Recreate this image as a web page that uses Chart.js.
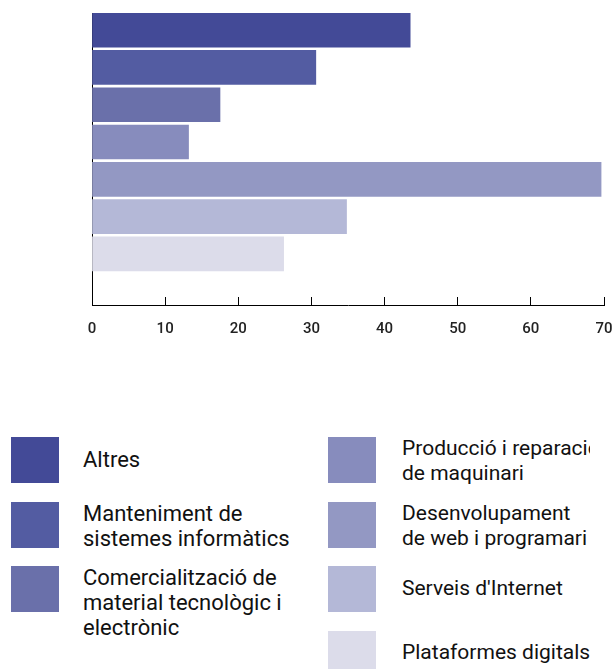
<!DOCTYPE html>
<html>
<head>
<meta charset="utf-8">
<script src="https://cdn.jsdelivr.net/npm/chart.js@4/dist/chart.umd.min.js"></script>
<style>
  html, body { margin: 0; padding: 0; background: #fff; }
  body { width: 614px; height: 669px; position: relative; overflow: hidden; font-family: Roboto, sans-serif; }
  #wrap { position: absolute; left: 0; top: 0; width: 614px; height: 345px; }
  .col { position: absolute; top: 437px; }
  .item { position: relative; height: 64.5px; }
  .sw { position: absolute; left: 0; top: 0; width: 48px; height: 46px; }
  .txt { position: absolute; top: -1px; min-height: 46px; display: flex; align-items: center;
         font-size: 22px; line-height: 25px; color: #111; overflow: hidden; white-space: nowrap; }
  #legR .txt { font-size: 21px; }
  .txt span { display: block; }
</style>
</head>
<body>
<div id="wrap"><canvas id="c" width="614" height="345"></canvas></div>
<div id="legL" class="col" style="left:11px"></div>
<div id="legR" class="col" style="left:328px"></div>
<script>
// Category labels (as line-broken in the legend)
const categories = [
  ["Altres"],
  ["Manteniment de", "sistemes informàtics"],
  ["Comercialització de", "material tecnològic i", "electrònic"],
  ["Producció i reparació", "de maquinari"],
  ["Desenvolupament", "de web i programari"],
  ["Serveis d'Internet"],
  ["Plataformes digitals"]
];
const values = [43.5, 30.6, 17.5, 13.2, 69.6, 34.8, 26.2];
const colors = ["#434a97", "#535ca2", "#6a70aa", "#878cbd", "#9398c3", "#b4b8d7", "#dcdcea"];
const xTicks = [0, 10, 20, 30, 40, 50, 60, 70];

const points = values.map((v, i) => ({ x: v, y: i }));

new Chart(document.getElementById('c'), {
  type: 'bar',
  data: {
    labels: categories,
    datasets: [{
      data: points,
      backgroundColor: colors,
      borderWidth: 0,
      barThickness: 34
    }]
  },
  options: {
    indexAxis: 'y',
    responsive: false,
    animation: false,
    events: [],
    layout: { padding: { left: 92, top: 13, right: 10, bottom: 0 } },
    plugins: { legend: { display: false }, tooltip: { enabled: false } },
    scales: {
      y: {
        type: 'linear',
        reverse: true,
        offset: false,
        min: -0.46,
        max: 7.37,
        ticks: { display: false, stepSize: 1 },
        grid: { display: false, drawTicks: false, offset: false },
        border: { display: true, color: '#000', width: 1 },
        afterFit: s => { s.width = 0; }
      },
      x: {
        type: 'linear',
        min: 0,
        max: 70,
        afterBuildTicks: s => { s.ticks = xTicks.map(v => ({ value: v })); },
        ticks: {
          padding: 23,
          color: '#222',
          font: { family: 'Roboto', size: 15, weight: '500' }
        },
        grid: { display: true, drawOnChartArea: false, drawTicks: true, tickLength: -8, color: '#000', lineWidth: 1 },
        border: { display: true, color: '#000', width: 1 },
        afterFit: s => { s.height = 40; s.paddingLeft = 0; s.paddingRight = 0; }
      }
    }
  }
});

function buildLegend(el, from, to, left, width) {
  let html = '';
  for (let i = from; i < to; i++) {
    html += '<div class="item"><div class="sw" style="background:' + colors[i] + '"></div>' +
      '<div class="txt" style="left:' + left + 'px;width:' + width + 'px"><span>' +
      categories[i].join('<br>') + '</span></div></div>';
  }
  el.innerHTML = html;
}
buildLegend(document.getElementById('legL'), 0, 3, 72, 230);
buildLegend(document.getElementById('legR'), 3, 7, 74, 188);
</script>
</body>
</html>
